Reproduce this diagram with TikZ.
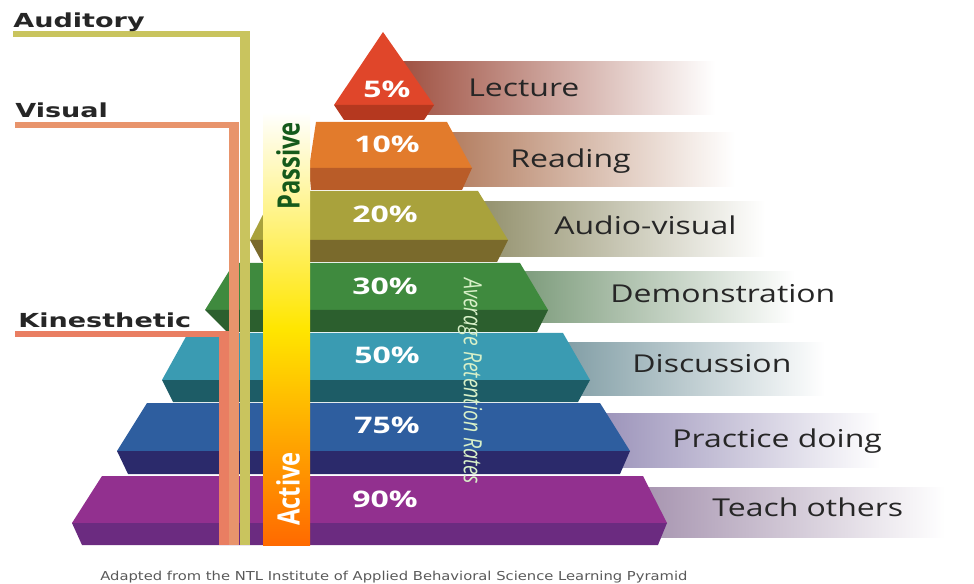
\documentclass[tikz,border=0pt]{standalone}
\usepackage{fontspec}
\usepackage{xcolor}
\usetikzlibrary{positioning}
\setmainfont{Open Sans}
\newfontfamily\labfont[FakeStretch=1.3]{Open Sans}
\newfontfamily\pctfont[FakeStretch=1.4]{Open Sans}
\newfontfamily\sensefont[FakeStretch=1.4]{DejaVu Sans}
\newfontfamily\capfont[FakeStretch=1.2]{DejaVu Sans}
% tier colours (face / lower band)
\definecolor{tred}{HTML}{E0462A}
\definecolor{treddk}{HTML}{B5381F}
\definecolor{torange}{HTML}{E27B2C}
\definecolor{torangedk}{HTML}{B95C28}
\definecolor{tolive}{HTML}{A9A23C}
\definecolor{tolivedk}{HTML}{7A6A2C}
\definecolor{tgreen}{HTML}{3F8A3E}
\definecolor{tgreendk}{HTML}{2C5F2E}
\definecolor{tteal}{HTML}{3A9BB2}
\definecolor{ttealdk}{HTML}{1D5C66}
\definecolor{tblue}{HTML}{2E5E9F}
\definecolor{tbluedk}{HTML}{2B2A6B}
\definecolor{tpurple}{HTML}{92308F}
\definecolor{tpurpledk}{HTML}{6B2B80}
% ribbon colours
\definecolor{rlect}{HTML}{9A4838}
\definecolor{rread}{HTML}{A2603C}
\definecolor{raudio}{HTML}{6F6C3C}
\definecolor{rdemo}{HTML}{3C6A3A}
\definecolor{rdisc}{HTML}{2B5B68}
\definecolor{rprac}{HTML}{4E3F84}
\definecolor{rteach}{HTML}{5B396C}
% sense lines
\definecolor{audline}{HTML}{C9C45E}
\definecolor{visline}{HTML}{E8946C}
\definecolor{kinline}{HTML}{E97E62}
\definecolor{passgreen}{HTML}{155A1B}
\definecolor{barorange}{HTML}{FF6A00}
\definecolor{baryellow}{HTML}{FFE600}
\definecolor{ratetext}{HTML}{D8F0C8}
\tikzset{
  % percentages on the tiers
  pct/.style={font=\pctfont\bfseries\fontsize{13}{15}\selectfont, text=white, anchor=base, inner sep=0pt},
  % method names on the ribbons
  method/.style={font=\labfont\fontsize{14}{16}\selectfont, text=black!85, anchor=base west, inner sep=0pt},
  % sense names on the left
  sense/.style={font=\sensefont\bfseries\fontsize{11}{13}\selectfont, text=black!85, anchor=base west, inner sep=0pt},
  % rotated words on the bar
  bartext/.style={font=\bfseries\fontsize{13.5}{15}\selectfont, inner sep=0pt, rotate=90},
  ribbon/.style={left color=#1, right color=white},
}

\begin{document}
\begin{tikzpicture}[x=0.02cm, y=-0.02cm]
    \useasboundingbox (0,0) rectangle (974,584);

    % Ribbons behind the pyramid
    \fill[ribbon=rlect] (385,62) rectangle (715,115);
    \fill[ribbon=rread] (385,133) rectangle (735,187);
    \fill[ribbon=raudio] (385,202) rectangle (765,257);
    \fill[ribbon=rdemo] (385,272) rectangle (795,323);
    \fill[ribbon=rdisc] (385,342) rectangle (825,395);
    \fill[ribbon=rprac] (385,413) rectangle (880,467);
    \fill[ribbon=rteach] (385,487) rectangle (945,537);

    % Pyramid tiers
    \foreach \t/\m/\b/\lt/\lp/\lb/\rt/\rp/\rb/\cf/\cb in {
        32/105/120/383/334/344/383/434/424/tred/treddk,
        122/168/190/316/309/311/447/472/462/torange/torangedk,
        191/240/262/275/250/262/478/508/497/tolive/tolivedk,
        263/310/332/234/205/227/520/548/537/tgreen/tgreendk,
        333/380/402/188/162/173/563/590/578/tteal/ttealdk,
        403/451/474/147/117/128/600/630/620/tblue/tbluedk,
        476/523/545/102/72/82/643/667/658/tpurple/tpurpledk}{
        \fill[\cf] (\lt,\t) -- (\rt,\t) -- (\rp,\m) -- (\lp,\m) -- cycle;
        \fill[\cb] (\lp,\m) -- (\rp,\m) -- (\rb,\b) -- (\lb,\b) -- cycle;
    }

    % Sense lines
    \fill[kinline] (15,331.5) rectangle (229,337.5);
    \fill[kinline] (219,331.5) rectangle (229,545);
    \fill[visline] (15,122) rectangle (239,128);
    \fill[visline] (229,122) rectangle (239,545);
    \fill[audline] (13,31.5) rectangle (250,37);
    \fill[audline] (240,31.5) rectangle (250,545);

    % Passive / Active bar
    \fill[top color=white, bottom color=barorange, middle color=baryellow] (263,112) rectangle (310,545);

    % Labels
    \node[sense] (auditory) at (13,28) {Auditory};
    \node[sense] (visual) at (15,118) {Visual};
    \node[sense] (kinesthetic) at (18,328) {Kinesthetic};

    \node[bartext, text=passgreen] (passive) at (288,166) {\scalebox{1}[1.3]{Passive}};
    \node[bartext, text=white] (active) at (288,489) {\scalebox{1}[1.3]{Active}};

    \node[pct] (p5) at (387,98) {5\%};
    \node[pct] (p10) at (387,153) {10\%};
    \node[pct] (p20) at (385,223) {20\%};
    \node[pct] (p30) at (385,295) {30\%};
    \node[pct] (p50) at (387,363) {50\%};
    \node[pct] (p75) at (387,433) {75\%};
    \node[pct] (p90) at (385,507) {90\%};

    \node[font=\itshape\fontsize{11}{13}\selectfont, text=ratetext, rotate=-90, inner sep=0pt] (rates) at (470,381) {\scalebox{1}[1.3]{Average Retention Rates}};

    \node[method] (lecture) at (468,97) {Lecture};
    \node[method] (reading) at (510,168) {Reading};
    \node[method] (audiovisual) at (554,235) {Audio-visual};
    \node[method] (demo) at (610,303) {Demonstration};
    \node[method] (discussion) at (632,373) {Discussion};
    \node[method] (practice) at (672,447) {Practice doing};
    \node[method] (teach) at (712,516) {Teach others};

    % Source
    \node[font=\capfont\fontsize{7}{8}\selectfont, text=black!65, anchor=base west, inner sep=0pt] (source) at (100,580) {Adapted from the NTL Institute of Applied Behavioral Science Learning Pyramid};
\end{tikzpicture}
\end{document}
